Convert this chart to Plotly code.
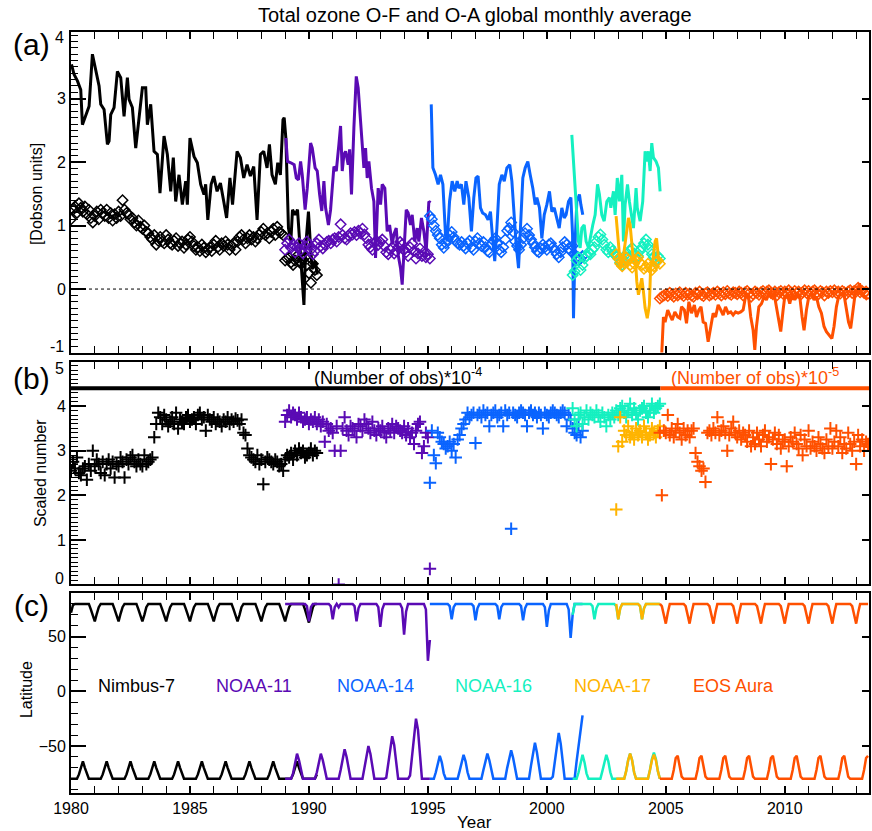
import plotly.graph_objects as go

# ---------------- axis / layout data ----------------
X_RANGE = [1980, 2013.54]
YA_RANGE = [-1, 4.05]
YB_RANGE = [0, 5]
YC_RANGE = [-93, 90]
YA_TICKS = [0, 1, 2, 3]
YB_TICKS = [1, 2, 3, 4]
YC_TICKS = [-50, 0, 50]
BAR_LEVEL = 4.4
BAR_SPLIT = 2004.77

NAMES = ["Nimbus-7", "NOAA-11", "NOAA-14", "NOAA-16", "NOAA-17", "EOS Aura"]
COLORS = ["#000000", "#5A0AB4", "#0A64FF", "#14F0C0", "#FFB400", "#FF5000"]
LABEL_X = [1982.75, 1987.7, 1992.78, 1997.77, 2002.76, 2007.84]

# first month of each monthly series (decimal year)
START = [1980 + 0/12, 1989 + 0/12, 1995 + 1/12, 2001 + 1/12, 2002 + 11/12, 2004 + 9/12]

# ---------------- panel (a): O-F lines (year, DU) ----------------
N7_OF_T = [1980.02, 1980.13, 1980.27, 1980.41, 1980.48, 1980.62, 1980.76, 1980.90, 1981.04, 1981.18, 1981.25,
           1981.39, 1981.53, 1981.60, 1981.67, 1981.81, 1981.95, 1982.09, 1982.23, 1982.37, 1982.44, 1982.58,
           1982.72, 1982.86, 1983.00, 1983.14, 1983.21, 1983.35, 1983.49, 1983.63, 1983.74, 1983.91, 1984.05,
           1984.19, 1984.30, 1984.40, 1984.54, 1984.68, 1984.82, 1984.89, 1985.00, 1985.17, 1985.31, 1985.45,
           1985.59, 1985.66, 1985.75, 1985.89, 1986.00, 1986.14, 1986.28, 1986.42, 1986.54, 1986.68, 1986.79,
           1986.98, 1987.12, 1987.26, 1987.40, 1987.54, 1987.68, 1987.82, 1987.96, 1988.10, 1988.24, 1988.34,
           1988.45, 1988.59, 1988.69, 1988.80, 1988.91, 1988.96, 1989.03, 1989.14, 1989.24, 1989.31, 1989.42,
           1989.52, 1989.61, 1989.72, 1989.79, 1989.86, 1989.98, 1990.07, 1990.14, 1990.26, 1990.35]
N7_OF = [3.54, 3.38, 3.28, 3.14, 2.59, 2.75, 2.88, 3.70, 3.43, 3.20, 2.91,
         2.83, 2.28, 2.33, 2.75, 2.86, 3.43, 3.33, 2.72, 3.33, 2.99, 2.86,
         2.22, 2.70, 3.17, 3.17, 2.59, 2.91, 2.17, 2.12, 1.51, 2.41, 2.12,
         1.54, 2.07, 1.38, 1.80, 1.33, 1.70, 1.33, 2.38, 2.09, 1.99, 1.65,
         1.49, 1.65, 1.09, 1.65, 1.78, 1.54, 1.67, 1.38, 1.12, 1.75, 1.33,
         2.17, 2.07, 1.75, 1.96, 1.78, 1.93, 1.09, 2.12, 2.17, 1.91, 2.28,
         1.80, 1.65, 1.99, 1.80, 2.67, 2.70, 2.38, 0.96, 0.75, 1.25, 1.17,
         1.25, 0.75, 0.23, -0.25, 0.65, 1.22, 0.65, 0.33, 0.44, 0.23]

N11_OF_T = [1989.03, 1989.10, 1989.24, 1989.38, 1989.47, 1989.56, 1989.65, 1989.72, 1989.84, 1989.93, 1990.07,
            1990.14, 1990.26, 1990.35, 1990.45, 1990.54, 1990.63, 1990.70, 1990.82, 1990.91, 1991.05, 1991.15,
            1991.26, 1991.33, 1991.40, 1991.47, 1991.54, 1991.65, 1991.71, 1991.79, 1991.89, 1991.99, 1992.07,
            1992.17, 1992.24, 1992.31, 1992.38, 1992.45, 1992.52, 1992.63, 1992.73, 1992.80, 1992.91, 1993.01,
            1993.08, 1993.19, 1993.29, 1993.39, 1993.50, 1993.57, 1993.67, 1993.75, 1993.85, 1993.92, 1993.99,
            1994.09, 1994.17, 1994.27, 1994.34, 1994.45, 1994.55, 1994.62, 1994.73, 1994.83, 1994.93, 1995.04,
            1995.11]
N11_OF = [2.38, 2.01, 1.99, 1.96, 1.75, 1.72, 2.01, 1.80, 1.25, 1.59, 2.30,
          2.22, 1.91, 1.86, 1.49, 1.23, 1.70, 1.28, 1.01, 1.25, 1.93, 1.86,
          2.28, 2.57, 1.86, 2.12, 2.17, 1.96, 2.20, 1.49, 2.54, 3.35, 3.17,
          2.54, 2.28, 1.91, 2.22, 1.75, 2.01, 1.59, 1.38, 0.49, 1.59, 1.33,
          1.65, 1.59, 0.91, 1.01, 0.70, 0.86, 0.96, 0.54, 0.33, 0.07, 0.54,
          1.25, 1.20, 1.01, 1.17, 0.75, 0.96, 0.75, 1.12, 0.91, 0.59, 1.38,
          1.36]

N14_OF_T = [1995.14, 1995.21, 1995.32, 1995.43, 1995.53, 1995.63, 1995.74, 1995.81, 1995.91, 1996.02, 1996.13,
            1996.23, 1996.30, 1996.41, 1996.51, 1996.60, 1996.72, 1996.83, 1996.93, 1997.02, 1997.11, 1997.21,
            1997.30, 1997.42, 1997.53, 1997.63, 1997.72, 1997.81, 1997.90, 1998.00, 1998.11, 1998.21, 1998.32,
            1998.44, 1998.53, 1998.63, 1998.71, 1998.81, 1998.91, 1998.99, 1999.09, 1999.20, 1999.30, 1999.41,
            1999.51, 1999.58, 1999.69, 1999.79, 1999.89, 2000.00, 2000.11, 2000.21, 2000.31, 2000.42, 2000.52,
            2000.63, 2000.73, 2000.81, 2000.91, 2001.01, 2001.08, 2001.12, 2001.19, 2001.26, 2001.37, 2001.43,
            2001.51]
N14_OF = [2.91, 1.91, 1.80, 1.65, 1.80, 1.65, 0.86, 0.75, 1.38, 1.70, 1.54,
          1.70, 1.59, 1.65, 1.33, 1.70, 1.44, 0.91, 1.44, 1.75, 1.78, 1.28,
          1.20, 1.17, 1.09, 1.22, 0.80, 0.44, 0.96, 1.65, 1.80, 1.70, 1.91,
          1.96, 1.70, 1.07, 0.70, 0.33, 1.17, 1.75, 1.91, 2.01, 1.80, 1.59,
          1.33, 1.44, 1.28, 0.80, 1.17, 1.33, 1.54, 1.22, 1.28, 1.12, 0.96,
          1.28, 1.12, 1.17, 1.38, 1.44, 0.86, -0.46, 0.75, 1.38, 1.49, 1.33,
          1.17]

N16_OF_T = [2001.05, 2001.12, 2001.19, 2001.26, 2001.33, 2001.40, 2001.47, 2001.57, 2001.65, 2001.75, 2001.85,
            2001.93, 2002.03, 2002.13, 2002.21, 2002.31, 2002.41, 2002.52, 2002.63, 2002.69, 2002.80, 2002.87,
            2002.96, 2003.05, 2003.15, 2003.22, 2003.29, 2003.39, 2003.47, 2003.57, 2003.64, 2003.75, 2003.80,
            2003.92, 2004.03, 2004.13, 2004.20, 2004.27, 2004.34, 2004.41, 2004.48, 2004.59, 2004.69, 2004.76]
N16_OF = [2.43, 2.07, 1.59, 1.17, 0.75, 0.65, 0.96, 1.01, 0.75, 0.65, 0.86,
          1.01, 1.17, 1.65, 1.49, 1.17, 1.07, 1.38, 1.44, 1.28, 1.54, 1.17,
          1.75, 1.38, 1.80, 0.75, 1.33, 1.65, 1.38, 1.17, 0.96, 1.59, 1.28,
          1.07, 1.38, 2.17, 2.01, 2.17, 1.86, 2.30, 2.07, 2.01, 1.91, 1.54]

N17_OF_T = [2002.91, 2003.01, 2003.10, 2003.19, 2003.29, 2003.36, 2003.43, 2003.50, 2003.57, 2003.64, 2003.71,
            2003.78, 2003.85, 2003.92, 2003.99, 2004.06, 2004.13, 2004.22, 2004.31, 2004.36, 2004.45, 2004.55,
            2004.61, 2004.69, 2004.76]
N17_OF = [1.15, 0.75, 0.33, 0.44, 0.75, 0.96, 1.12, 1.01, 0.65, 0.44, 0.54,
          0.12, -0.09, 0.02, 0.17, -0.04, -0.30, -0.46, -0.25, 0.33, 0.44, 0.75,
          0.80, 0.49, 0.44]

AURA_OF_T = [2004.83, 2004.90, 2004.97, 2005.08, 2005.17, 2005.27, 2005.38, 2005.50, 2005.59, 2005.66, 2005.78,
             2005.87, 2005.97, 2006.08, 2006.20, 2006.29, 2006.39, 2006.48, 2006.57, 2006.67, 2006.78, 2006.89,
             2006.99, 2007.09, 2007.20, 2007.31, 2007.41, 2007.51, 2007.62, 2007.73, 2007.83, 2007.93, 2008.04,
             2008.15, 2008.25, 2008.35, 2008.46, 2008.57, 2008.67, 2008.74, 2008.81, 2008.91, 2009.02, 2009.13,
             2009.23, 2009.33, 2009.44, 2009.55, 2009.65, 2009.75, 2009.83, 2009.93, 2010.00, 2010.11, 2010.21,
             2010.31, 2010.42, 2010.53, 2010.63, 2010.73, 2010.81, 2010.91, 2011.01, 2011.12, 2011.23, 2011.33,
             2011.43, 2011.54, 2011.65, 2011.75, 2011.89, 2011.98, 2012.07, 2012.17, 2012.26, 2012.38, 2012.49,
             2012.59, 2012.68, 2012.77, 2012.87, 2012.96, 2013.07, 2013.14, 2013.24, 2013.35, 2013.47]
AURA_OF = [-1.01, -0.44, -0.52, -0.33, -0.41, -0.49, -0.36, -0.44, -0.46, -0.28, -0.33,
           -0.54, -0.20, -0.38, -0.25, -0.44, -0.33, -0.28, -0.52, -0.54, -0.83, -0.59,
           -0.38, -0.44, -0.25, -0.33, -0.41, -0.28, -0.38, -0.36, -0.41, -0.36, -0.38,
           -0.36, -0.33, -0.12, -0.07, -0.44, -0.65, -0.96, -0.59, -0.28, -0.23, -0.12,
           -0.17, -0.07, -0.12, -0.07, -0.28, -0.52, -0.67, -0.33, -0.12, -0.09, -0.23,
           -0.07, -0.17, -0.09, -0.12, -0.44, -0.65, -0.33, -0.12, -0.07, -0.17, -0.12,
           -0.28, -0.38, -0.59, -0.67, -0.73, -0.78, -0.59, -0.28, -0.12, -0.07, -0.09,
           -0.33, -0.52, -0.62, -0.33, -0.07, 0.01, 0.09, -0.07, -0.12, -0.17]

# ---------------- panel (a): O-A monthly diamonds (DU) ----------------
N7_OA = [1.10, 1.25, 1.30, 1.20, 1.35, 1.28, 1.22, 1.30, 1.18, 1.25, 1.12, 1.05,
         1.15, 1.22, 1.10, 1.25, 1.20, 1.15, 1.25, 1.12, 1.20, 1.08, 1.18, 1.12,
         1.22, 1.15, 1.40, 1.25, 1.20, 1.18, 1.10, 1.12, 1.05, 1.00, 1.08, 0.98,
         0.95, 1.00, 0.90, 0.88, 0.82, 0.78, 0.85, 0.70, 0.76, 0.82, 0.75, 0.72,
         0.85, 0.78, 0.72, 0.70, 0.76, 0.80, 0.68, 0.72, 0.75, 0.65, 0.70, 0.78,
         0.82, 0.75, 0.68, 0.62, 0.66, 0.60, 0.70, 0.65, 0.58, 0.62, 0.66, 0.60,
         0.70, 0.76, 0.66, 0.62, 0.72, 0.68, 0.75, 0.70, 0.62, 0.68, 0.72, 0.62,
         0.75, 0.82, 0.85, 0.78, 0.72, 0.80, 0.85, 0.78, 0.82, 0.75, 0.80, 0.86,
         0.90, 0.95, 0.85, 0.88, 0.80, 0.90, 0.95, 0.85, 0.98, 0.90, 0.88, 0.85,
         0.45, 0.48, 0.50, 0.42, 0.38, 0.45, 0.52, 0.44, 0.40, 0.46, 0.50, 0.38,
         0.25, 0.10, 0.40, 0.30, 0.22]
N11_OA = [0.62, 0.72, 0.78, 0.65, 0.70, 0.58, 0.66, 0.72, 0.62, 0.56, 0.68, 0.75,
          0.70, 0.62, 0.55, 0.60, 0.72, 0.78, 0.68, 0.64, 0.70, 0.74, 0.76, 0.72,
          0.78, 0.80, 0.75, 0.82, 1.02, 0.85, 0.80, 0.78, 0.84, 0.88, 0.86, 0.90,
          0.85, 0.92, 0.88, 0.95, 0.86, 0.80, 0.70, 0.66, 0.62, 0.72, 0.76, 0.70,
          0.74, 0.78, 0.68, 0.58, 0.55, 0.62, 0.66, 0.56, 0.60, 0.66, 0.74, 0.70,
          0.62, 0.58, 0.52, 0.66, 0.72, 0.60, 0.48, 0.56, 0.64, 0.52, 0.58, 0.50,
          0.55, 0.48]
N14_OA = [1.15, 1.10, 1.00, 0.92, 0.85, 0.80, 0.70, 0.65, 0.72, 0.78, 0.85,
          0.90, 0.82, 0.76, 0.72, 0.70, 0.74, 0.68, 0.64, 0.72, 0.76, 0.66, 0.62,
          0.75, 0.80, 0.72, 0.68, 0.74, 0.66, 0.60, 0.58, 0.70, 0.76, 0.80, 0.72,
          0.62, 0.58, 0.66, 0.78, 0.92, 0.96, 1.05, 0.90, 0.75, 0.68, 0.62, 0.70,
          0.80, 0.88, 0.95, 0.85, 0.78, 0.72, 0.66, 0.60, 0.58, 0.64, 0.70, 0.66,
          0.62, 0.70, 0.72, 0.66, 0.60, 0.55, 0.50, 0.58, 0.66, 0.74, 0.70, 0.64,
          0.60, 0.68, 0.55, 0.50, 0.45, 0.48, 0.52]
N16_OA = [0.22, 0.28, 0.45, 0.50, 0.30, 0.38, 0.48, 0.52, 0.58, 0.55, 0.62,
          0.66, 0.75, 0.82, 0.86, 0.78, 0.70, 0.62, 0.58, 0.66, 0.60, 0.55, 0.52,
          0.48, 0.42, 0.38, 0.45, 0.55, 0.50, 0.60, 0.65, 0.56, 0.48, 0.52, 0.60,
          0.66, 0.72, 0.78, 0.70, 0.62, 0.55, 0.50, 0.45, 0.52, 0.48]
N17_OA = [0.55, 0.48, 0.40, 0.36, 0.42, 0.50, 0.46, 0.38, 0.34, 0.40, 0.45, 0.50,
          0.42, 0.38, 0.32, 0.35, 0.40, 0.34, 0.30, 0.36, 0.42, 0.45, 0.40]
AURA_OA = [-0.15, -0.12, -0.10,
           -0.08, -0.11, -0.06, -0.09, -0.12, -0.07, -0.10, -0.05, -0.08, -0.11, -0.06, -0.09,
           -0.07, -0.10, -0.12, -0.06, -0.08, -0.04, -0.09, -0.11, -0.07, -0.05, -0.10, -0.08,
           -0.06, -0.09, -0.04, -0.07, -0.10, -0.05, -0.08, -0.03, -0.07, -0.09, -0.05, -0.06,
           -0.08, -0.04, -0.06, -0.10, -0.05, -0.03, -0.07, -0.12, -0.08, -0.04, -0.06, -0.09,
           -0.05, -0.03, -0.07, -0.04, -0.02, -0.06, -0.08, -0.04, -0.10, -0.05, -0.03, -0.07,
           -0.04, -0.06, -0.02, -0.05, -0.08, -0.03, -0.06, -0.04, -0.09, -0.05, -0.02, -0.06,
           -0.03, -0.07, -0.04, -0.02, -0.06, -0.08, -0.03, -0.05, -0.10, -0.04, -0.06, -0.03,
           -0.05, -0.02, -0.06, -0.04, -0.07, -0.03, -0.05, -0.08, -0.04, -0.02, -0.06, -0.03,
           -0.04, 0.02, -0.05, -0.03, -0.06, -0.04, -0.07]

# ---------------- panel (b): scaled number of observations ----------------
N7_NOBS = [2.55, 2.75, 2.60, 2.85, 2.50, 2.45, 2.60, 2.65, 2.35, 2.70, 2.55, 3.00,
           2.65, 2.80, 2.70, 2.50, 2.75, 2.45, 2.70, 2.80, 2.60, 2.75, 2.40, 2.70,
           2.65, 2.85, 2.75, 2.40, 2.80, 2.70, 2.85, 2.90, 2.75, 2.65, 2.80, 2.70,
           2.65, 2.90, 2.70, 2.75, 2.80, 2.85, 3.30, 3.60, 3.85, 3.75, 3.60, 3.80,
           3.70, 3.55, 3.65, 3.75, 3.60, 3.85, 3.50, 3.70, 3.65, 3.60, 3.75, 3.80,
           3.65, 3.70, 3.75, 3.60, 3.80, 3.85, 3.70, 3.75, 3.45, 3.80, 3.70, 3.65,
           3.75, 3.60, 3.70, 3.65, 3.55, 3.70, 3.65, 3.75, 3.60, 3.70, 3.65, 3.72,
           3.68, 3.60, 3.70, 3.40, 3.35, 3.05, 2.90, 2.85, 2.80, 2.75, 2.90, 2.70,
           2.80, 2.25, 2.75, 2.85, 2.80, 2.75, 2.70, 2.80, 2.75, 2.65, 2.70, 2.55,
           2.80, 2.90, 2.85, 2.95, 2.80, 3.00, 2.90, 3.05, 2.95, 3.00, 2.85, 2.90,
           2.95, 3.05, 2.90, 3.00, 2.95]
N11_NOBS = [3.65, 3.80, 3.90, 3.75, 3.85, 3.80, 3.70, 3.85, 3.75, 3.65, 3.70, 3.75,
            3.60, 3.70, 3.65, 3.75, 3.60, 3.70, 3.55, 3.65, 3.20, 3.60, 3.45, 3.50,
            3.40, 3.00, 3.55, 0.00, 3.00, 3.50, 3.75, 3.45, 3.35, 3.55, 3.50, 3.45,
            3.30, 3.60, 3.55, 3.45, 3.70, 3.60, 3.50, 3.40, 3.65, 3.45, 3.35, 3.50,
            3.45, 3.55, 3.40, 3.30, 3.50, 3.45, 3.60, 3.40, 3.55, 3.50, 3.45, 3.40,
            3.55, 3.35, 3.50, 3.30, 3.40, 3.15, 3.45, 3.60, 3.65, 2.95, 3.10, 3.40,
            3.30, 0.35]
N14_NOBS = [2.28, 3.45, 2.90, 2.72, 3.40, 3.30, 3.20, 3.15, 3.05, 3.10, 3.20,
            3.00, 3.15, 2.85, 3.25, 3.35, 3.50, 3.60, 3.70, 3.85, 3.75, 3.80, 3.85,
            3.17, 3.80, 3.85, 3.75, 3.90, 3.80, 3.85, 3.55, 3.80, 3.85, 3.90, 3.75,
            3.80, 3.85, 3.55, 3.90, 3.80, 3.85, 1.25, 3.85, 3.80, 3.75, 3.85, 3.90,
            3.85, 3.80, 3.55, 3.85, 3.90, 3.80, 3.85, 3.75, 3.85, 3.80, 3.50, 3.85,
            3.80, 3.75, 3.85, 3.90, 3.85, 3.80, 3.75, 3.85, 3.90, 3.85, 3.55, 3.80,
            3.70, 3.50, 3.40, 3.35, 3.60, 3.30, 3.45]
N16_NOBS = [3.95, 3.70, 3.55, 3.80, 3.85, 3.60, 3.75, 3.90, 3.70, 3.85, 3.80,
            3.75, 3.90, 3.80, 3.65, 3.85, 3.75, 3.55, 3.80, 3.70, 3.85, 3.75, 3.90,
            3.80, 3.95, 4.00, 3.85, 3.75, 3.90, 4.05, 3.80, 3.95, 3.85, 3.70, 3.90,
            3.95, 4.00, 3.85, 3.75, 3.90, 4.05, 3.85, 3.95, 4.00, 4.05]
N17_NOBS = [1.68, 3.10, 3.75, 3.20, 3.45, 3.35, 3.55, 3.30, 3.40, 3.25, 3.50, 3.35,
            3.45, 3.30, 3.55, 3.40, 3.25, 3.35, 3.50, 3.40, 3.30, 3.45, 3.55]
AURA_NOBS = [3.40, 2.00, 3.45,
             3.40, 3.80, 3.35, 3.50, 3.30, 3.45, 3.60, 3.40, 3.25, 3.50, 3.35, 3.45,
             3.30, 3.45, 3.50, 2.95, 2.75, 2.65, 2.55, 2.60, 2.30, 3.40, 3.45, 3.35,
             3.50, 3.40, 3.75, 3.35, 3.45, 3.55, 3.40, 3.00, 3.35, 3.50, 3.65, 3.40,
             3.30, 3.45, 3.25, 3.40, 3.35, 3.20, 3.45, 3.10, 3.30, 3.15, 3.40, 3.25,
             3.10, 3.35, 3.45, 3.20, 3.30, 2.70, 3.25, 3.40, 3.15, 3.35, 3.05, 3.20,
             3.25, 2.65, 3.10, 3.30, 3.20, 3.40, 3.15, 3.05, 3.35, 2.90, 3.25, 3.10,
             3.45, 3.05, 3.20, 3.10, 3.00, 3.30, 3.15, 3.05, 2.95, 3.25, 3.10, 3.50,
             3.05, 3.20, 3.45, 3.10, 3.30, 2.95, 3.15, 3.05, 3.40, 3.15, 3.00, 3.20,
             2.70, 3.35, 3.10, 3.25, 3.00, 3.20, 3.15]

# ---------------- panel (c): latitude coverage (deg) ----------------
N7_LATMAX = [72, 79, 80, 80, 80, 80, 80, 80, 80, 80, 75, 69,
             64, 71, 77, 80, 80, 80, 80, 80, 80, 80, 75, 69,
             64, 71, 77, 80, 80, 80, 80, 80, 80, 80, 75, 69,
             64, 70, 77, 80, 80, 80, 80, 80, 80, 80, 75, 69,
             64, 71, 77, 80, 80, 80, 80, 80, 80, 80, 75, 69,
             64, 71, 77, 80, 80, 80, 80, 80, 80, 80, 75, 69,
             64, 71, 77, 80, 80, 80, 80, 80, 80, 80, 75, 69,
             64, 70, 77, 80, 80, 80, 80, 80, 80, 80, 75, 69,
             64, 71, 77, 80, 80, 80, 80, 80, 80, 80, 75, 69,
             64, 71, 77, 80, 80, 80, 80, 80, 80, 80, 75, 68,
             63, 70, 77, 80, 80]
N7_LATMIN = [-80, -80, -80, -80, -76, -70, -64, -70, -76, -80, -80, -80,
             -80, -80, -80, -80, -76, -70, -64, -70, -76, -80, -80, -80,
             -80, -80, -80, -80, -76, -70, -64, -70, -76, -80, -80, -80,
             -80, -80, -80, -80, -76, -70, -64, -70, -76, -80, -80, -80,
             -80, -80, -80, -80, -76, -70, -64, -70, -76, -80, -80, -80,
             -80, -80, -80, -80, -76, -70, -64, -70, -76, -80, -80, -80,
             -80, -80, -80, -80, -76, -70, -64, -70, -76, -80, -80, -80,
             -80, -80, -80, -80, -76, -70, -64, -70, -76, -80, -80, -80,
             -80, -80, -80, -80, -76, -70, -64, -70, -76, -80, -80, -80,
             -80, -80, -80, -80, -76, -70, -64, -70, -76, -80, -80, -80,
             -80, -80, -80, -80, -76]
N11_LATMAX = [80, 80, 80, 80, 80, 80, 80, 80, 80, 80, 80, 78,
              64, 77, 80, 80, 80, 80, 80, 80, 80, 80, 80, 78,
              66, 77, 80, 77, 80, 80, 80, 80, 80, 80, 80, 78,
              64, 76, 80, 80, 80, 80, 80, 80, 80, 80, 80, 77,
              59, 75, 80, 80, 80, 80, 80, 80, 80, 80, 80, 76,
              52, 73, 80, 80, 80, 80, 80, 80, 80, 80, 80, 75,
              28, 47]
N11_LATMIN = [-80, -80, -80, -80, -75, -65, -57, -63, -73, -80, -80, -80,
              -80, -80, -80, -80, -74, -64, -57, -63, -73, -80, -80, -80,
              -80, -80, -80, -80, -72, -61, -53, -60, -71, -80, -80, -80,
              -80, -80, -80, -80, -70, -58, -50, -57, -69, -80, -80, -80,
              -80, -80, -80, -79, -66, -50, -41, -49, -65, -80, -80, -80,
              -80, -80, -80, -77, -60, -38, -25, -35, -58, -80, -80, -80,
              -80, -80]
N14_LATMAX = [80, 80, 80, 80, 80, 80, 80, 80, 80, 80, 78,
              66, 77, 80, 80, 80, 80, 80, 80, 80, 80, 80, 78,
              65, 76, 80, 80, 80, 80, 80, 80, 80, 80, 80, 78,
              66, 77, 80, 80, 80, 80, 80, 80, 80, 80, 80, 78,
              65, 76, 80, 80, 80, 80, 80, 80, 80, 80, 80, 77,
              59, 74, 80, 80, 80, 80, 80, 80, 80, 80, 80, 75,
              49, 70, 80, 80, 80, 80, 80]
N14_LATMIN = [-80, -80, -80, -74, -65, -59, -65, -75, -80, -80, -80,
              -80, -80, -80, -80, -73, -64, -58, -64, -74, -80, -80, -80,
              -80, -80, -80, -80, -72, -63, -57, -63, -73, -80, -80, -80,
              -80, -80, -80, -80, -70, -61, -54, -61, -72, -80, -80, -80,
              -80, -80, -80, -80, -68, -56, -47, -56, -70, -80, -80, -80,
              -80, -80, -80, -78, -64, -48, -38, -48, -66, -80, -80, -80,
              -80, -80, -80, -64, -48, -33, -22]
N16_LATMAX = [70, 80, 80, 80, 80, 80, 80, 80, 80, 80, 78,
              66, 76, 80, 80, 80, 80, 80, 80, 80, 80, 80, 78,
              66, 76, 80, 80, 80, 80, 80, 80, 80, 80, 80, 78,
              66, 76, 80, 80, 80, 80, 80, 80, 80, 80]
N16_LATMIN = [-80, -80, -80, -74, -65, -58, -65, -75, -80, -80, -80,
              -80, -80, -80, -80, -73, -64, -58, -64, -74, -80, -80, -80,
              -80, -80, -80, -80, -73, -63, -57, -63, -74, -80, -80, -80,
              -80, -80, -80, -80, -72, -62, -56, -62, -73, -80]
N17_LATMAX = [80,
              66, 76, 80, 80, 80, 80, 80, 80, 80, 80, 80, 78,
              66, 76, 80, 80, 80, 80, 80, 80, 80, 80]
N17_LATMIN = [-80,
              -80, -80, -80, -80, -73, -63, -57, -63, -74, -80, -80, -80,
              -80, -80, -80, -80, -72, -63, -58, -63, -73, -80]
AURA_LATMAX = [80, 78, 70,
               62, 72, 80, 80, 80, 80, 80, 80, 80, 80, 78, 70,
               62, 72, 80, 80, 80, 80, 80, 80, 80, 80, 78, 70,
               62, 72, 80, 80, 80, 80, 80, 80, 80, 80, 78, 70,
               62, 72, 80, 80, 80, 80, 80, 80, 80, 80, 78, 70,
               62, 72, 80, 80, 80, 80, 80, 80, 80, 80, 78, 70,
               62, 72, 80, 80, 80, 80, 80, 80, 80, 80, 78, 70,
               62, 72, 80, 80, 80, 80, 80, 80, 80, 80, 78, 70,
               62, 72, 80, 80, 80, 80, 80, 80, 80, 80, 78, 70,
               62, 72, 80, 80, 80, 80, 80]
AURA_LATMIN = [-80, -80, -80,
               -80, -80, -80, -80, -72, -61, -59, -68, -78, -80, -80, -80,
               -80, -80, -80, -80, -72, -61, -59, -68, -78, -80, -80, -80,
               -80, -80, -80, -80, -72, -61, -59, -68, -78, -80, -80, -80,
               -80, -80, -80, -80, -72, -61, -59, -68, -78, -80, -80, -80,
               -80, -80, -80, -80, -72, -61, -59, -68, -78, -80, -80, -80,
               -80, -80, -80, -80, -72, -61, -59, -68, -78, -80, -80, -80,
               -80, -80, -80, -80, -72, -61, -59, -68, -78, -80, -80, -80,
               -80, -80, -80, -80, -72, -61, -59, -68, -78, -80, -80, -80,
               -80, -80, -80, -80, -72, -61, -59]

OF_T = [N7_OF_T, N11_OF_T, N14_OF_T, N16_OF_T, N17_OF_T, AURA_OF_T]
OF = [N7_OF, N11_OF, N14_OF, N16_OF, N17_OF, AURA_OF]
OA = [N7_OA, N11_OA, N14_OA, N16_OA, N17_OA, AURA_OA]
NOBS = [N7_NOBS, N11_NOBS, N14_NOBS, N16_NOBS, N17_NOBS, AURA_NOBS]
LATMAX = [N7_LATMAX, N11_LATMAX, N14_LATMAX, N16_LATMAX, N17_LATMAX, AURA_LATMAX]
LATMIN = [N7_LATMIN, N11_LATMIN, N14_LATMIN, N16_LATMIN, N17_LATMIN, AURA_LATMIN]


def monthly(start, n):
    return [start + i / 12.0 for i in range(n)]


FONT = "Liberation Sans, Arial, Helvetica, sans-serif"
fig = go.Figure()

for i in range(6):
    c = COLORS[i]
    # panel a
    fig.add_trace(go.Scatter(x=OF_T[i], y=OF[i], mode="lines", line=dict(color=c, width=3),
                             xaxis="x", yaxis="y", showlegend=False, hoverinfo="skip"))
    fig.add_trace(go.Scatter(x=monthly(START[i], len(OA[i])), y=OA[i], mode="markers",
                             marker=dict(symbol="diamond-open", size=8, color=c, line=dict(color=c, width=1.5)),
                             xaxis="x", yaxis="y", showlegend=False, hoverinfo="skip"))
    # panel b
    fig.add_trace(go.Scatter(x=monthly(START[i], len(NOBS[i])), y=NOBS[i], mode="markers",
                             marker=dict(symbol="cross-thin", size=9, color=c, line=dict(color=c, width=2)),
                             xaxis="x2", yaxis="y2", showlegend=False, hoverinfo="skip"))
    # panel c
    fig.add_trace(go.Scatter(x=monthly(START[i], len(LATMAX[i])), y=LATMAX[i], mode="lines",
                             line=dict(color=c, width=2.5), xaxis="x3", yaxis="y3",
                             showlegend=False, hoverinfo="skip"))
    fig.add_trace(go.Scatter(x=monthly(START[i], len(LATMIN[i])), y=LATMIN[i], mode="lines",
                             line=dict(color=c, width=2.5), xaxis="x3", yaxis="y3",
                             showlegend=False, hoverinfo="skip"))

# bar in panel b
fig.add_trace(go.Scatter(x=[X_RANGE[0], BAR_SPLIT], y=[BAR_LEVEL, BAR_LEVEL], mode="lines",
                         line=dict(color=COLORS[0], width=4), xaxis="x2", yaxis="y2",
                         showlegend=False, hoverinfo="skip"))
fig.add_trace(go.Scatter(x=[BAR_SPLIT, X_RANGE[1]], y=[BAR_LEVEL, BAR_LEVEL], mode="lines",
                         line=dict(color=COLORS[5], width=4), xaxis="x2", yaxis="y2",
                         showlegend=False, hoverinfo="skip"))
# dummy traces for right-side major-tick axes
for ya, xa in (("y4", "x"), ("y5", "x2"), ("y6", "x3")):
    fig.add_trace(go.Scatter(x=[None], y=[None], xaxis=xa, yaxis=ya, showlegend=False, hoverinfo="skip"))

fig.add_shape(type="line", xref="x domain", yref="y", x0=0, x1=1, y0=0, y1=0,
              line=dict(color="black", width=1, dash="dot"))

DOM_A = [0.5788, 1.0]
DOM_B = [0.274, 0.567]
DOM_C = [0.0, 0.2628]

xcommon = dict(range=X_RANGE, tick0=1980, dtick=5, ticks="inside", ticklen=7, tickwidth=1.5,
               tickcolor="black", showline=True, linewidth=2, linecolor="black", mirror="allticks",
               showgrid=False, zeroline=False,
               minor=dict(dtick=1, tick0=1980, ticks="inside", ticklen=4, tickwidth=1, tickcolor="black"),
               tickfont=dict(family=FONT, size=16, color="black"))


def ycommon(rng, tickvals, minor_dtick, domain):
    return dict(range=rng, domain=domain, tickmode="array", tickvals=tickvals, ticks="inside", ticklen=15,
                tickwidth=1.5, tickcolor="black", showline=True, linewidth=2, linecolor="black", mirror=True,
                showgrid=False, zeroline=False,
                minor=dict(dtick=minor_dtick, tick0=0, ticks="inside", ticklen=7, tickwidth=1, tickcolor="black"),
                tickfont=dict(family=FONT, size=16, color="black"))


def yright(rng, tickvals, over, anchor, domain):
    return dict(range=rng, domain=domain, tickmode="array", tickvals=tickvals, overlaying=over, side="right",
                anchor=anchor, ticks="inside", ticklen=7, tickwidth=1.5, tickcolor="black",
                showticklabels=False, showline=False, showgrid=False, zeroline=False)


fig.update_layout(
    width=872, height=831,
    margin=dict(l=71, r=1, t=32, b=38),
    paper_bgcolor="white", plot_bgcolor="white",
    font=dict(family=FONT, color="black"),
    xaxis=dict(xcommon, anchor="y", showticklabels=False),
    xaxis2=dict(xcommon, anchor="y2", showticklabels=False, matches="x"),
    xaxis3=dict(xcommon, anchor="y3", showticklabels=True, matches="x"),
    yaxis=dict(ycommon(YA_RANGE, YA_TICKS, 0.1, DOM_A), anchor="x"),
    yaxis2=dict(ycommon(YB_RANGE, YB_TICKS, 0.1, DOM_B), anchor="x2"),
    yaxis3=dict(ycommon(YC_RANGE, YC_TICKS, 10, DOM_C), anchor="x3"),
    yaxis4=yright(YA_RANGE, YA_TICKS, "y", "x", DOM_A),
    yaxis5=yright(YB_RANGE, YB_TICKS, "y2", "x2", DOM_B),
    yaxis6=yright(YC_RANGE, YC_TICKS, "y3", "x3", DOM_C),
)

ann = []


def pap(px, py):
    return (px - 71) / 800.0, (793 - py) / 761.0


def add_text(text, px, py, size, color="black", angle=0, xanchor="center"):
    x, y = pap(px, py)
    ann.append(dict(text=text, x=x, y=y, xref="paper", yref="paper", showarrow=False,
                    xanchor=xanchor, yanchor="middle", textangle=angle,
                    font=dict(family=FONT, size=size, color=color)))


add_text("Total ozone O-F and O-A global monthly average", 476, 15, 20)
add_text("(a)", 31, 45, 30)
add_text("(b)", 31, 378, 30)
add_text("(c)", 31, 605, 30)
add_text("[Dobson units]", 36, 194, 16, angle=-90)
add_text("Scaled number", 40, 473, 16, angle=-90)
add_text("Latitude", 26, 690, 16, angle=-90)
add_text("Year", 476, 822, 17)
# end-of-range y tick labels, nudged inside their panels as in the original
add_text("4", 66, 37, 16, xanchor="right")
add_text("-1", 66, 346, 16, xanchor="right")
add_text("5", 66, 368, 16, xanchor="right")
add_text("0", 66, 578, 16, xanchor="right")

ann.append(dict(text="(Number of obs)*10<sup>-4</sup>", x=1993.74, y=4.66, xref="x2", yref="y2",
                showarrow=False, xanchor="center", yanchor="middle",
                font=dict(family=FONT, size=18, color=COLORS[0])))
ann.append(dict(text="(Number of obs)*10<sup>-5</sup>", x=2008.75, y=4.66, xref="x2", yref="y2",
                showarrow=False, xanchor="center", yanchor="middle",
                font=dict(family=FONT, size=18, color=COLORS[5])))
for i in range(6):
    ann.append(dict(text=NAMES[i], x=LABEL_X[i], y=5, xref="x3", yref="y3", showarrow=False,
                    xanchor="center", yanchor="middle",
                    font=dict(family=FONT, size=18, color=COLORS[i])))

fig.update_layout(annotations=ann)
fig.write_html("out.html")
